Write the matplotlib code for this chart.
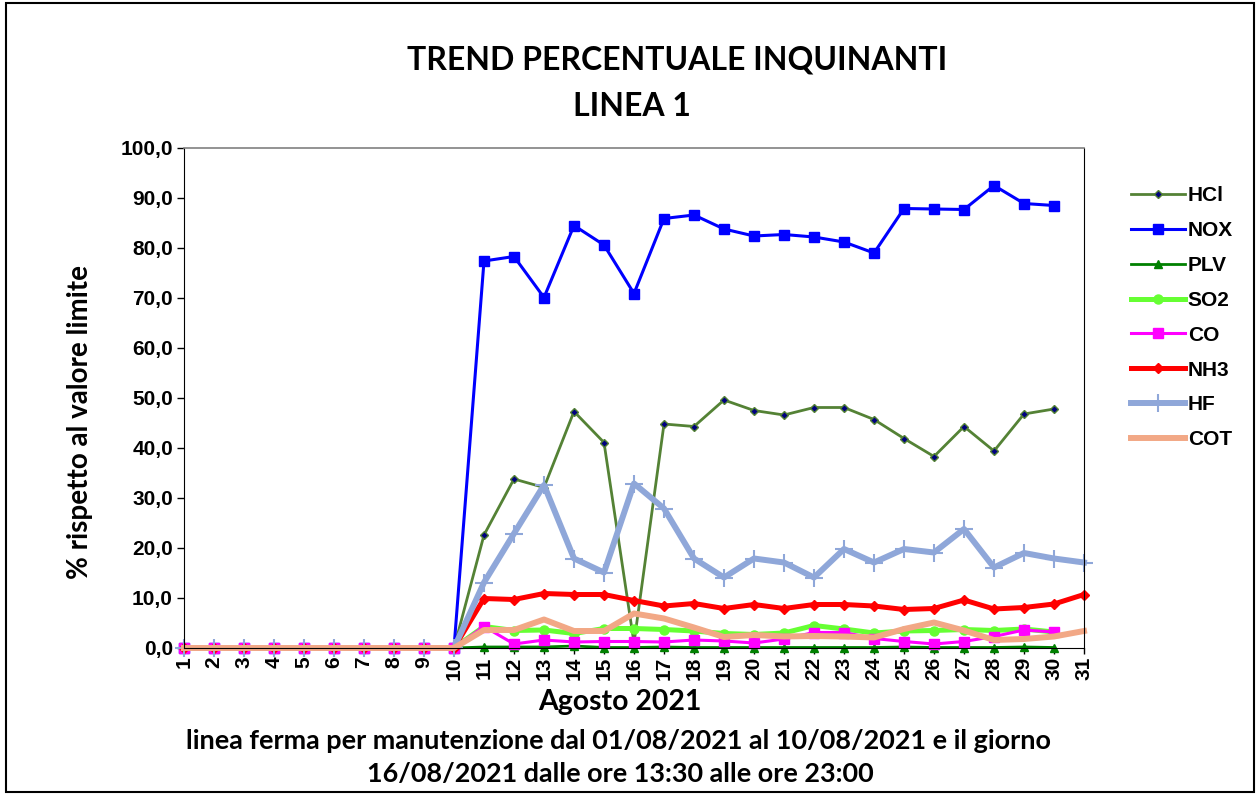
import numpy as np
import matplotlib
matplotlib.use("Agg")
import matplotlib.pyplot as plt
from matplotlib.patches import Rectangle

# days of August 2021
days = list(range(1, 32))
zeros10 = [0.0] * 10

# % of the limit value (days 1-10 line stopped)
hcl = zeros10 + [22.6, 33.8, 32.1, 47.3, 41.1, 1.0, 44.8, 44.3, 49.6, 47.5,
                 46.6, 48.1, 48.1, 45.7, 41.9, 38.3, 44.3, 39.4, 46.8, 47.8]
nox = zeros10 + [77.4, 78.3, 70.1, 84.5, 80.6, 70.9, 85.9, 86.6, 83.8, 82.4,
                 82.7, 82.2, 81.2, 79.0, 87.9, 87.8, 87.7, 92.5, 88.9, 88.5]
plv = zeros10 + [0.2, 0.2, 0.2, 0.4, 0.1, 0.1, 0.2, 0.1, 0.1, 0.1,
                 0.1, 0.1, 0.1, 0.1, 0.2, 0.1, 0.1, 0.1, 0.2, 0.1]
so2 = zeros10 + [4.3, 3.5, 3.6, 2.9, 3.9, 3.9, 3.7, 3.4, 2.9, 2.7,
                 3.0, 4.5, 3.8, 3.0, 3.4, 3.5, 3.7, 3.5, 3.8, 3.2]
co = zeros10 + [4.3, 0.8, 1.6, 1.2, 1.3, 1.3, 1.2, 1.6, 1.4, 1.0,
                1.8, 3.1, 3.1, 1.9, 1.3, 0.8, 1.3, 2.3, 3.6, 3.2]
nh3 = zeros10 + [9.9, 9.7, 10.9, 10.7, 10.7, 9.5, 8.4, 8.9, 7.9, 8.7,
                 7.9, 8.7, 8.7, 8.4, 7.7, 7.9, 9.6, 7.8, 8.1, 8.8, 10.7]
hf = zeros10 + [13.1, 22.9, 32.6, 17.9, 15.1, 32.9, 27.9, 17.9, 14.1, 17.9,
                17.1, 14.1, 19.8, 17.1, 19.8, 19.1, 23.8, 16.1, 19.0, 17.9, 17.1]
cot = zeros10 + [3.6, 3.6, 5.7, 3.4, 3.4, 6.9, 5.9, 4.1, 2.2, 2.6,
                 2.3, 2.4, 2.3, 2.1, 3.8, 5.1, 3.5, 1.6, 1.8, 2.3, 3.4]

series_names = ["HCl", "NOX", "PLV", "SO2", "CO", "NH3", "HF", "COT"]
series_vals = [hcl, nox, plv, so2, co, nh3, hf, cot]

styles = {
    "HCl": dict(color="#548235", lw=2.0, marker="D", ms=4.5, mfc="#00007F", mec="#548235", mew=1.0),
    "NOX": dict(color="#0000FF", lw=2.2, marker="s", ms=6.8),
    "PLV": dict(color="#008000", lw=2.0, marker="^", ms=6.0),
    "SO2": dict(color="#66FF33", lw=3.6, marker="o", ms=6.5),
    "CO":  dict(color="#FF00FF", lw=2.2, marker="s", ms=6.8),
    "NH3": dict(color="#FF0000", lw=3.6, marker="D", ms=5.0),
    "HF":  dict(color="#8FA7D9", lw=4.3, marker="+", ms=13, mew=1.5),
    "COT": dict(color="#F2A886", lw=4.3, marker=None),
}

W, H = 1260, 795
fig = plt.figure(figsize=(W / 100, H / 100), dpi=100)
ax = fig.add_axes([184 / W, 1 - 648 / H, 900 / W, 500 / H])

tickfont = dict(family="Liberation Sans", weight="bold", size=15)
textfam = ["Lato", "DejaVu Sans"]

lines = []
for name, vals in zip(series_names, series_vals):
    x = days[:len(vals)]
    ln, = ax.plot(x, vals, label=name, clip_on=False, **styles[name])
    lines.append(ln)

ax.set_xlim(1, 31)
ax.set_ylim(0, 100)
ax.set_xticks(days)
ax.set_xticklabels([str(d) for d in days], rotation=90, fontdict=tickfont)
yt = np.arange(0, 101, 10)
ax.set_yticks(yt)
ax.set_yticklabels([f"{v:.1f}".replace(".", ",") for v in yt], fontdict=tickfont)
ax.tick_params(axis="both", direction="out", length=5, width=1, pad=3)
ax.tick_params(axis="x", length=4, pad=2)
for s in ["left", "bottom", "right"]:
    ax.spines[s].set_color("black")
ax.spines["top"].set_color("#808080")
ax.spines["top"].set_linewidth(1.2)

leg = ax.legend(handles=lines, labels=["HCl", "NOX", "PLV", "SO2", "CO", "NH3", "HF", "COT"],
                loc="upper left", bbox_to_anchor=(1121 / W, 1 - 176 / H),
                bbox_transform=fig.transFigure, frameon=False, borderpad=0,
                handlelength=2.55, handletextpad=0.15, labelspacing=0.76,
                prop=dict(family="Liberation Sans", weight="bold", size=15))

# texts, placed at their centres in pixels
def ftext(cx, cy, s, size, rot=0):
    return fig.text(cx / W, 1 - cy / H, s, ha="center", va="center", rotation=rot,
                    fontsize=size, fontweight="bold", family=textfam)

t1 = ftext(677, 60, "TREND PERCENTUALE INQUINANTI", 20)
t2 = ftext(632, 107, "LINEA 1", 20)
xl = ftext(620, 702, "Agosto 2021", 16)
n1 = ftext(618, 741, "linea ferma per manutenzione dal 01/08/2021 al 10/08/2021 e il giorno", 14)
n2 = ftext(620, 774, "16/08/2021 dalle ore 13:30 alle ore 23:00", 14)
yl = ftext(80, 422, "% rispetto al valore limite", 15, rot=90)

# scale text so that its width matches the reference
fig.canvas.draw()
r = fig.canvas.get_renderer()
def fit(t, target, others=(), vertical=False):
    bb = t.get_window_extent(r)
    cur = bb.height if vertical else bb.width
    size = t.get_fontsize() * target / cur
    t.set_fontsize(size)
    for o in others:
        o.set_fontsize(size)

fit(t1, 539, [t2])
fit(xl, 163)
fit(n1, 872, [n2])
fit(yl, 315, vertical=True)

# outer frame of the chart
fig.patches.append(Rectangle((6 / W, 3 / H), 1248 / W, 789 / H, transform=fig.transFigure,
                             fill=False, edgecolor="black", linewidth=1.5))

fig.savefig("out.png", dpi=100)
